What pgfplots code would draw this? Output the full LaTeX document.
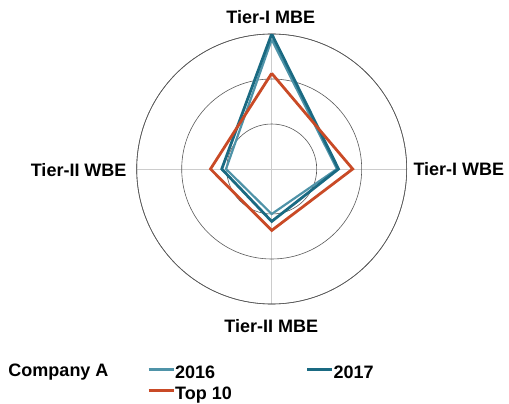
\documentclass[border=0pt]{standalone}
\usepackage{pgfplots}
\pgfplotsset{compat=1.18}
\usepgfplotslibrary{polar}
\usepackage{fontspec}
\setmainfont{Liberation Sans}
\definecolor{c2016}{HTML}{4F93A8}
\definecolor{c2017}{HTML}{1A6A82}
\definecolor{ctop}{HTML}{C94A26}
\begin{document}
\begin{tikzpicture}[x=1pt,y=1pt]
\path[use as bounding box] (0,0) rectangle (509,404);
\begin{polaraxis}[
  at={(271.7pt,235pt)}, anchor=center,
  scale only axis, width=270pt, height=270pt,
  ymin=0, ymax=60, xmin=0, xmax=360,
  ytick={20,40,60}, yticklabels={},
  xtick={0,90,180,270}, xticklabels={},
  grid=major,
  x grid style={draw=black!20, line width=0.7pt},
  y grid style={draw=black!65, line width=0.6pt},
  x axis line style={draw=black!65, line width=0.6pt},
  y axis line style={draw=none},
  major tick style={draw=none},
  font=\fontsize{18}{21}\selectfont\bfseries,
  legend columns=2,
  legend cell align=left,
  legend style={at={(axis description cs:0.0393,-0.2287)}, anchor=north west,
    draw=none, fill=none, inner sep=0pt, outer sep=0pt,
    nodes={inner sep=0pt, outer sep=0pt},
    row sep=7.1pt,
    /tikz/column 2/.style={column sep=74pt},
    font=\fontsize{18}{21}\selectfont\bfseries},
  legend image code/.code={\draw[#1] (0pt,3.3pt) -- (25pt,3.3pt);},
  line join=miter,
]
\addplot[c2016, line width=2.2pt, mark=none] coordinates {(90,57.5) (0,29) (270,20) (180,20.3) (90,57.5)};
\addlegendentry{2016}
\addplot[c2017, line width=2.8pt, mark=none] coordinates {(90,60) (0,29.7) (270,23.3) (180,22.2) (90,60)};
\addlegendentry{2017}
\addplot[ctop, line width=2.8pt, mark=none] coordinates {(90,42.5) (0,36) (270,27.3) (180,27.2) (90,42.5)};
\addlegendentry{Top 10}
\end{polaraxis}
\begin{scope}[every node/.style={font=\fontsize{18}{21}\selectfont\bfseries, inner sep=0pt}]
\node[anchor=base] at (270.8,380.7) {Tier-I MBE};
\node[anchor=base west] at (413.3,228.3) {Tier-I WBE};
\node[anchor=base] at (271.2,71.3) {Tier-II MBE};
\node[anchor=base east] at (126.7,227.3) {Tier-II WBE};
\node[anchor=base west] at (8.3,27.3) {Company A};
\end{scope}
\end{tikzpicture}
\end{document}
